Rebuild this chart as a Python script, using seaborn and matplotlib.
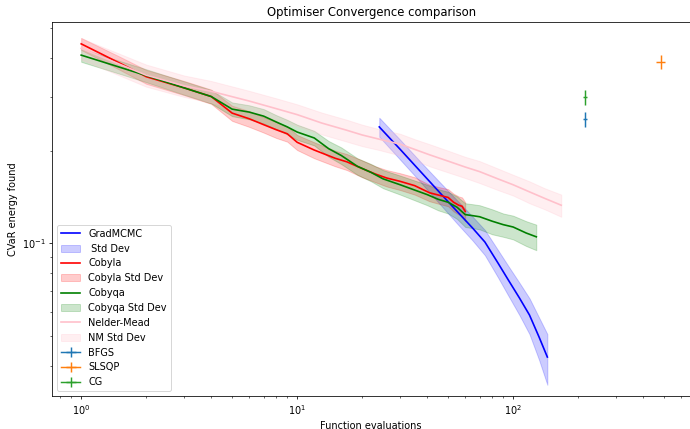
import matplotlib
matplotlib.use("Agg")
import matplotlib.pyplot as plt
import seaborn as sns

# GradMCMC (mean and std of energy vs function evaluations)
grad_x = [24, 30, 37, 45, 55, 65, 74, 85, 95, 107, 119, 132, 144]
grad_y = [0.239, 0.202, 0.172, 0.148, 0.127, 0.112, 0.101, 0.0864, 0.076, 0.0664, 0.0585, 0.0495, 0.0427]
grad_std = [0.017, 0.015, 0.013, 0.012, 0.011, 0.010, 0.0095, 0.0088, 0.0084, 0.008, 0.0078, 0.0078, 0.008]

# Cobyla
cobyla_x = [1, 1.5, 2, 3, 4, 5, 6, 7, 8, 9, 10, 12, 15, 17, 20, 23, 26, 30, 35, 41, 46, 50, 53, 56, 58, 60]
cobyla_y = [0.445, 0.386, 0.348, 0.320, 0.300, 0.265, 0.254, 0.243, 0.234, 0.227, 0.213, 0.201, 0.189,
            0.184, 0.175, 0.168, 0.163, 0.159, 0.154, 0.146, 0.143, 0.141, 0.136, 0.133, 0.132, 0.127]
cobyla_std = [0.02, 0.019, 0.018, 0.017, 0.016, 0.015, 0.015, 0.014, 0.014, 0.013, 0.012, 0.012, 0.011,
              0.011, 0.011, 0.010, 0.010, 0.010, 0.010, 0.009, 0.009, 0.009, 0.009, 0.009, 0.009, 0.009]

# Cobyqa
cobyqa_x = [1, 1.5, 2, 3, 4, 5, 6, 7, 8, 9, 10, 12, 14, 16, 19, 22, 25, 30, 35, 40, 45, 50, 55, 60,
            65, 70, 80, 90, 100, 115, 128]
cobyqa_y = [0.409, 0.374, 0.351, 0.320, 0.300, 0.273, 0.267, 0.259, 0.248, 0.239, 0.230, 0.220, 0.203,
            0.193, 0.178, 0.170, 0.162, 0.155, 0.149, 0.144, 0.139, 0.136, 0.131, 0.124, 0.123, 0.122,
            0.118, 0.115, 0.113, 0.108, 0.105]
cobyqa_std = [0.02, 0.018, 0.017, 0.016, 0.015, 0.014, 0.014, 0.014, 0.013, 0.013, 0.013, 0.012, 0.012,
              0.012, 0.011, 0.011, 0.011, 0.011, 0.011, 0.011, 0.011, 0.011, 0.011, 0.011, 0.011, 0.011,
              0.011, 0.010, 0.010, 0.010, 0.010]

# Nelder-Mead
nm_x = [1, 2, 3, 4, 6, 8, 10, 13, 17, 20, 24, 30, 35, 41, 50, 60, 70, 85, 100, 119, 140, 167]
nm_y = [0.43, 0.352, 0.325, 0.312, 0.290, 0.274, 0.262, 0.246, 0.233, 0.225, 0.218, 0.210, 0.202, 0.194,
        0.185, 0.177, 0.171, 0.162, 0.155, 0.147, 0.140, 0.133]
nm_std = [0.034, 0.029, 0.026, 0.025, 0.023, 0.022, 0.021, 0.020, 0.019, 0.018, 0.017, 0.017, 0.016,
          0.016, 0.015, 0.014, 0.014, 0.013, 0.012, 0.012, 0.011, 0.011]

# single-run optimisers: (evaluations, energy) with spreads
point_names = ['BFGS', 'SLSQP', 'CG']
point_x = [215, 484, 215]
point_y = [0.253, 0.389, 0.298]
point_xerr = [4, 23, 4]
point_yerr = [0.015, 0.02, 0.017]
point_colors = ['C0', 'C1', 'C2']

fig = plt.figure(figsize=(690 / 70, 429 / 70), dpi=70)
ax = fig.add_axes([0.0758, 0.0769, 0.9242, 0.8718])


def band(x, y, s, color, alpha, label):
    lo = [m - d for m, d in zip(y, s)]
    hi = [m + d for m, d in zip(y, s)]
    ax.fill_between(x, lo, hi, color=color, alpha=alpha, label=label)


sns.lineplot(x=grad_x, y=grad_y, color='blue', label='GradMCMC', linewidth=1.7, ax=ax)
band(grad_x, grad_y, grad_std, 'blue', 0.2, ' Std Dev')
sns.lineplot(x=cobyla_x, y=cobyla_y, color='red', label='Cobyla', linewidth=1.7, ax=ax)
band(cobyla_x, cobyla_y, cobyla_std, 'red', 0.2, 'Cobyla Std Dev')
sns.lineplot(x=cobyqa_x, y=cobyqa_y, color='green', label='Cobyqa', linewidth=1.7, ax=ax)
band(cobyqa_x, cobyqa_y, cobyqa_std, 'green', 0.2, 'Cobyqa Std Dev')
sns.lineplot(x=nm_x, y=nm_y, color='pink', label='Nelder-Mead', linewidth=1.7, ax=ax)
band(nm_x, nm_y, nm_std, 'pink', 0.25, 'NM Std Dev')

for name, px, py, xe, ye, c in zip(point_names, point_x, point_y, point_xerr, point_yerr, point_colors):
    ax.errorbar([px], [py], xerr=[xe], yerr=[ye], color=c, label=name)

ax.set_xscale('log')
ax.set_yscale('log')
ax.set_xlim(0.735, 659)
ax.set_ylim(0.0319, 0.524)
ax.set_title('Optimiser Convergence comparison')
ax.set_xlabel('Function evaluations')
ax.set_ylabel('CVaR energy found')
ax.legend(loc='lower left')

fig.savefig('out.png', dpi=70)
